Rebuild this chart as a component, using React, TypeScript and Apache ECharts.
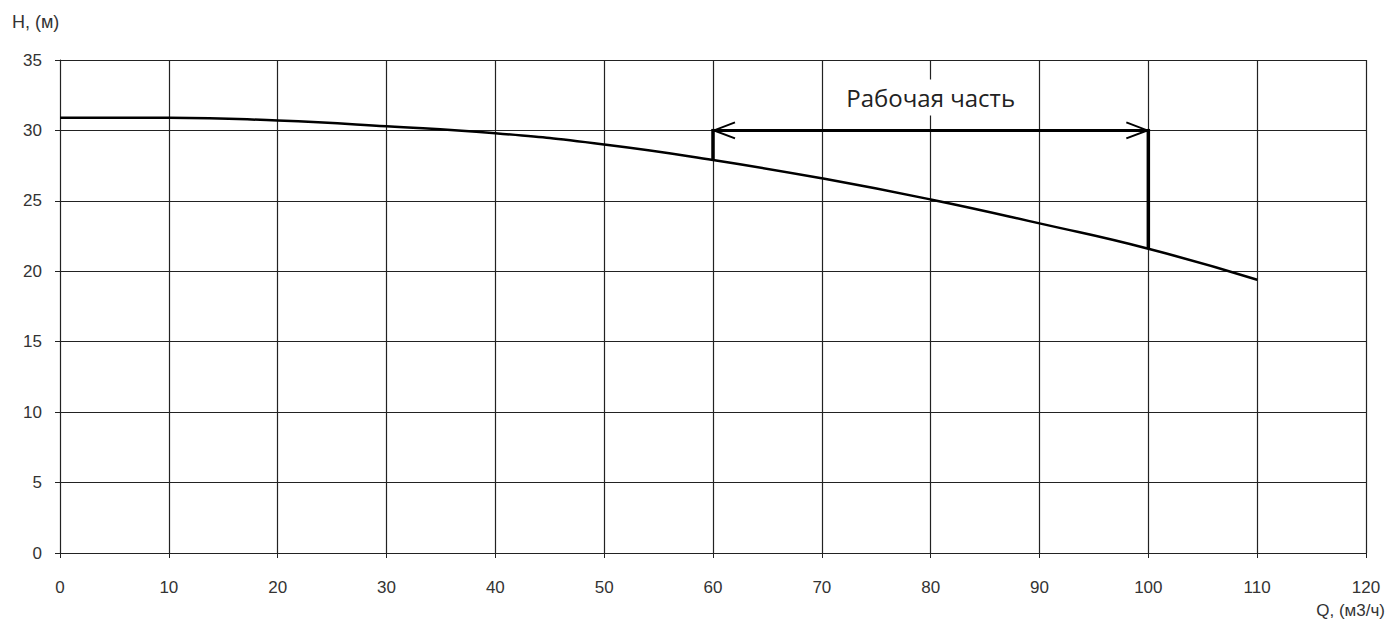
import React, { useEffect, useRef } from "react";
import * as echarts from "echarts";

const qValues = [0, 10, 20, 30, 40, 50, 60, 70, 80, 90, 100, 110];
const hValues = [30.9, 30.9, 30.7, 30.3, 29.8, 29.0, 27.9, 26.6, 25.1, 23.4, 21.6, 19.4];
const workRange = [60, 100];
const workLevel = 30;
const workLabel = "Рабочая часть";
const yAxisTitle = "H, (м)";
const xAxisTitle = "Q, (м3/ч)";

const hAt = (q: number) => hValues[qValues.indexOf(q)];

export default function App() {
  const ref = useRef<HTMLDivElement>(null);
  useEffect(() => {
    if (!ref.current) return;
    const chart = echarts.init(ref.current, null, { renderer: "svg" });
    const tickFont = { fontFamily: "Liberation Sans, Arial, sans-serif", fontSize: 17, color: "#333" };
    chart.setOption({
      animation: false,
      backgroundColor: "#fff",
      grid: { left: 60, right: 27, top: 60, bottom: 67, containLabel: false },
      xAxis: {
        type: "value",
        min: 0,
        max: 120,
        interval: 10,
        axisLine: { show: true, lineStyle: { color: "#222", width: 1 } },
        axisTick: { show: true, length: 5, lineStyle: { color: "#222" } },
        axisLabel: { ...tickFont, margin: 26 },
        splitLine: { show: true, lineStyle: { color: "#222", width: 1.2 } },
      },
      yAxis: {
        type: "value",
        min: 0,
        max: 35,
        interval: 5,
        axisLine: { show: true, lineStyle: { color: "#222", width: 1 } },
        axisTick: { show: true, length: 5, lineStyle: { color: "#222" } },
        axisLabel: { ...tickFont, margin: 18 },
        splitLine: { show: true, lineStyle: { color: "#222", width: 1.2 } },
      },
      graphic: [
        {
          type: "text",
          left: 12,
          top: 13,
          style: { text: yAxisTitle, font: "18px 'Liberation Sans', Arial, sans-serif", fill: "#333" },
        },
        {
          type: "text",
          right: 8,
          top: 602,
          style: { text: xAxisTitle, font: "17px 'Liberation Sans', Arial, sans-serif", fill: "#333" },
        },
      ],
      series: [
        {
          type: "line",
          data: qValues.map((q, i) => [q, hValues[i]]),
          smooth: true,
          showSymbol: false,
          lineStyle: { color: "#000", width: 2.5 },
          z: 3,
        },
        {
          type: "custom",
          clip: false,
          z: 5,
          encode: { x: [0, 1], y: [2, 3, 4] },
          data: [[workRange[0], workRange[1], workLevel, hAt(workRange[0]), hAt(workRange[1])]],
          renderItem: (params: any, api: any) => {
            const q0 = api.value(0);
            const q1 = api.value(1);
            const lvl = api.value(2);
            const h0 = api.value(3);
            const h1 = api.value(4);
            const pL = api.coord([q0, lvl]);
            const pR = api.coord([q1, lvl]);
            const bL = api.coord([q0, h0]);
            const bR = api.coord([q1, h1]);
            const head = 22;
            const hw = 8;
            const stroke = { stroke: "#000", lineWidth: 3, fill: "none" };
            return {
              type: "group",
              children: [
                { type: "line", shape: { x1: pL[0], y1: pL[1], x2: pR[0], y2: pR[1] }, style: stroke },
                { type: "line", shape: { x1: pL[0], y1: pL[1] - 1.5, x2: bL[0], y2: bL[1] }, style: { stroke: "#000", lineWidth: 3.5 } },
                { type: "line", shape: { x1: pR[0], y1: pR[1] - 1.5, x2: bR[0], y2: bR[1] }, style: { stroke: "#000", lineWidth: 3.5 } },
                {
                  type: "polyline",
                  shape: { points: [[pL[0] + head, pL[1] - hw], [pL[0] + 1, pL[1]], [pL[0] + head, pL[1] + hw]] },
                  style: { stroke: "#000", lineWidth: 2, fill: "none" },
                },
                {
                  type: "polyline",
                  shape: { points: [[pR[0] - head, pR[1] - hw], [pR[0] - 1, pR[1]], [pR[0] - head, pR[1] + hw]] },
                  style: { stroke: "#000", lineWidth: 2, fill: "none" },
                },
                {
                  type: "text",
                  style: {
                    text: workLabel,
                    x: (pL[0] + pR[0]) / 2,
                    y: pL[1] - 33,
                    align: "center",
                    verticalAlign: "middle",
                    font: "24px 'Open Sans', 'Noto Sans', sans-serif",
                    fill: "#222",
                    backgroundColor: "#fff",
                    padding: [6, 4, 6, 4],
                  },
                },
              ],
            };
          },
        },
      ],
    });
    return () => chart.dispose();
  }, []);
  return (
    <div
      ref={ref}
      style={{ position: "absolute", left: 0, top: 0, width: 1393, height: 620 }}
    />
  );
}
